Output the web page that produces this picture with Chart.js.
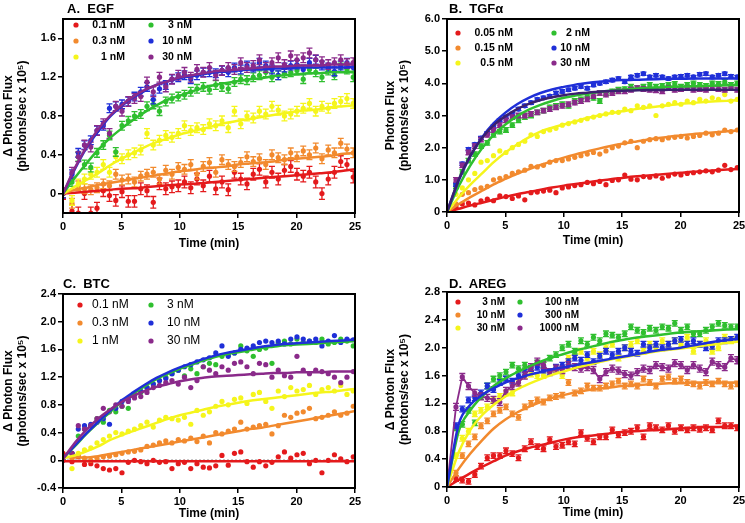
<!DOCTYPE html>
<html><head><meta charset="utf-8">
<script src="https://cdn.jsdelivr.net/npm/chart.js@4.4.1/dist/chart.umd.min.js"></script>
<style>
html,body{margin:0;padding:0;background:#fff;overflow:hidden;width:745px;height:523px;position:relative}
canvas{position:absolute;display:block}
.ttl{position:absolute;font:bold 13px "Liberation Sans",Arial,sans-serif;white-space:pre;color:#000;line-height:13px}
</style></head><body>
<canvas id="cA" width="372" height="262" style="left:0;top:0"></canvas>
<canvas id="cB" width="383" height="262" style="left:372px;top:0"></canvas>
<canvas id="cC" width="372" height="261" style="left:0;top:262px"></canvas>
<canvas id="cD" width="383" height="261" style="left:372px;top:262px"></canvas>
<div class="ttl" style="left:67px;top:2px">A.  EGF</div>
<div class="ttl" style="left:449px;top:2px">B.  TGFα</div>
<div class="ttl" style="left:63px;top:277px">C.  BTC</div>
<div class="ttl" style="left:449px;top:277px">D.  AREG</div>
<script>
// ---- time points (min) of measurements and of fitted curves ----
const T = [0,0.77,1.31,1.84,2.38,2.91,3.45,3.98,4.52,5.05,5.59,6.12,6.66,7.19,7.73,8.26,8.8,9.33,9.87,10.4,10.94,11.47,12.01,12.54,13.08,13.61,14.15,14.68,15.22,15.75,16.29,16.82,17.36,17.89,18.43,18.96,19.5,20.03,20.57,21.1,21.64,22.17,22.71,23.24,23.78,24.31,24.85];
const FT = [0,1,2,3,4,5,6,7,8,9,10,11,12,13,14,15,16,17,18,19,20,21,22,23,24,25];
const xTicks = [0,5,10,15,20,25];

// ---- A. EGF ----
const egfLabels = ['0.1 nM','0.3 nM','1 nM','3 nM','10 nM','30 nM'];
const egf01 = [0,-0.18,-0.2,0.0,-0.2,-0.15,0.03,-0.02,-0.07,0.02,-0.08,-0.08,0.05,0.03,-0.09,0.1,0.05,0.07,0.08,0.12,0.06,0.15,0.08,0.18,0.05,0.12,0.04,0.22,0.15,0.1,0.2,0.25,0.12,0.22,0.15,0.24,0.28,0.2,0.18,0.22,0.12,0.0,0.15,0.22,0.33,0.3,0.17];
const egf03 = [0,-0.1,0.08,0.05,0.04,0.06,0.1,0.08,0.2,0.14,0.15,0.12,0.18,0.2,0.22,0.15,0.24,0.2,0.27,0.25,0.3,0.2,0.28,0.32,0.22,0.35,0.3,0.28,0.32,0.38,0.33,0.36,0.3,0.4,0.37,0.35,0.42,0.38,0.44,0.4,0.47,0.36,0.45,0.42,0.52,0.46,0.42];
const egf1 = [0,-0.07,0.1,0.15,0.2,0.22,0.3,0.22,0.38,0.36,0.4,0.42,0.45,0.62,0.5,0.55,0.6,0.58,0.62,0.7,0.65,0.68,0.66,0.72,0.7,0.75,0.68,0.85,0.72,0.8,0.78,0.85,0.82,0.9,0.86,0.8,0.82,0.85,0.88,0.93,0.85,0.9,0.88,0.93,0.95,0.98,0.93];
const egf3 = [0,0.12,0.38,0.3,0.27,0.42,0.5,0.6,0.43,0.7,0.75,0.8,0.82,0.9,0.92,0.85,0.95,0.98,1.0,1.02,1.05,1.08,1.1,1.07,1.12,1.1,1.08,1.15,1.18,1.17,1.2,1.22,1.25,1.2,1.22,1.24,1.25,1.27,1.18,1.28,1.25,1.2,1.27,1.22,1.3,1.28,1.2];
const egf10 = [0,0.2,0.42,0.5,0.55,0.65,0.7,0.88,0.9,0.92,0.95,1.0,1.05,1.1,0.97,1.08,1.12,1.18,1.2,1.22,1.18,1.22,1.25,1.25,1.24,1.27,1.25,1.3,1.28,1.32,1.3,1.35,1.32,1.28,1.22,1.3,1.32,1.33,1.28,1.35,1.38,1.32,1.3,1.26,1.32,1.35,1.3];
const egf30 = [0,0.22,0.38,0.5,0.48,0.65,0.72,0.62,0.9,0.85,0.95,0.98,1.0,1.15,1.05,1.2,1.1,1.18,1.22,1.25,1.2,1.28,1.25,1.3,1.22,1.27,1.3,1.28,1.35,1.3,1.32,1.38,1.3,1.35,1.4,1.33,1.42,1.38,1.4,1.45,1.38,1.36,1.33,1.35,1.38,1.34,1.35];
const egfFit01 = [0,0.01,0.02,0.03,0.04,0.05,0.055,0.065,0.075,0.085,0.095,0.1,0.11,0.12,0.13,0.14,0.15,0.16,0.17,0.18,0.19,0.2,0.21,0.22,0.235,0.25];
const egfFit03 = [0,0.04,0.06,0.09,0.11,0.13,0.15,0.17,0.19,0.21,0.23,0.24,0.26,0.27,0.28,0.3,0.31,0.32,0.33,0.35,0.36,0.37,0.38,0.39,0.41,0.42];
const egfFit1 = [0,0.07,0.14,0.21,0.29,0.36,0.42,0.48,0.53,0.57,0.61,0.64,0.67,0.7,0.73,0.75,0.77,0.79,0.81,0.83,0.85,0.86,0.87,0.89,0.9,0.91];
const egfFit3 = [0,0.16,0.31,0.45,0.57,0.67,0.76,0.84,0.91,0.97,1.01,1.05,1.09,1.12,1.14,1.16,1.18,1.19,1.21,1.22,1.23,1.24,1.24,1.25,1.25,1.26];
const egfFit10 = [0,0.25,0.47,0.64,0.79,0.9,0.99,1.06,1.12,1.16,1.19,1.21,1.23,1.25,1.26,1.27,1.28,1.28,1.29,1.29,1.3,1.3,1.3,1.3,1.3,1.31];
const egfFit30 = [0,0.26,0.48,0.66,0.8,0.91,1.0,1.07,1.12,1.16,1.2,1.22,1.24,1.26,1.27,1.28,1.29,1.3,1.31,1.31,1.32,1.32,1.32,1.33,1.33,1.33];
const egfErr = [0.06,0.05,0.05,0.045,0.045,0.05];
const egfYTicks = [0,0.4,0.8,1.2,1.6];

// ---- B. TGFalpha ----
const tgfLabels = ['0.05 nM','0.15 nM','0.5 nM','2 nM','10 nM','30 nM'];
const tgf005 = [0,0.15,0.25,0.28,0.22,0.35,0.4,0.35,0.5,0.48,0.42,0.5,0.38,0.6,0.62,0.65,0.68,0.6,0.75,0.78,0.82,0.85,0.92,0.88,0.95,0.85,0.98,1.0,1.15,1.02,1.0,1.1,1.08,1.12,1.05,1.12,1.18,1.15,1.2,1.22,1.25,1.28,1.25,1.3,1.45,1.32,1.38];
const tgf015 = [0,0.25,0.55,0.6,0.7,0.75,0.8,1.0,1.05,1.1,1.2,1.25,1.3,1.42,1.4,1.45,1.55,1.6,1.6,1.65,1.7,1.75,1.8,1.85,1.8,1.9,2.0,2.05,2.15,2.2,2.0,2.2,2.25,2.28,2.25,2.3,2.32,2.35,2.3,2.35,2.38,2.45,2.4,2.45,2.55,2.5,2.55];
const tgf05 = [0,0.55,0.75,1.0,1.2,1.55,1.6,1.75,1.9,1.85,2.0,2.1,2.2,2.4,2.35,2.5,2.55,2.6,2.7,2.75,2.8,2.85,2.9,2.95,3.0,3.05,3.1,3.1,3.2,3.15,3.3,3.25,3.3,3.0,3.3,3.35,3.4,3.35,3.45,3.4,3.5,3.45,3.55,3.5,3.65,3.45,3.5];
const tgf2 = [0,0.8,1.25,1.6,1.8,2.05,2.15,2.4,2.5,2.55,2.7,2.85,2.95,3.0,3.1,3.15,3.25,3.3,3.35,3.3,3.45,3.5,3.6,3.55,3.45,3.7,3.75,3.8,3.82,3.9,3.85,3.9,3.95,3.9,3.92,3.95,3.98,3.9,3.95,4.0,3.95,3.92,4.0,3.98,4.05,3.95,4.0];
const tgf10 = [0,0.85,1.5,1.95,2.1,2.3,2.45,2.65,2.85,2.95,3.05,3.2,3.3,3.4,3.5,3.55,3.6,3.7,3.75,3.8,3.85,3.9,3.85,3.95,4.0,4.05,4.1,4.15,4.05,4.2,4.25,4.3,4.2,4.25,4.2,4.15,4.2,4.22,4.25,4.2,4.28,4.3,4.2,4.25,4.3,4.22,4.2];
const tgf30 = [0,1.0,1.45,1.85,2.05,2.25,2.4,2.55,2.7,2.85,2.95,3.0,3.0,3.05,3.1,3.15,3.2,3.25,3.3,3.35,3.4,3.45,3.5,3.6,3.7,3.65,3.7,3.75,3.75,3.8,3.85,3.82,3.8,3.78,3.75,3.85,3.8,3.82,3.85,3.8,3.82,3.8,3.85,3.82,3.8,3.85,3.8];
const tgfFit005 = [0,0.1,0.2,0.29,0.38,0.47,0.55,0.62,0.69,0.76,0.82,0.87,0.92,0.97,1.02,1.06,1.1,1.13,1.16,1.19,1.22,1.25,1.27,1.3,1.32,1.34];
const tgfFit015 = [0,0.24,0.46,0.66,0.86,1.03,1.19,1.33,1.46,1.58,1.69,1.79,1.88,1.97,2.05,2.12,2.18,2.24,2.29,2.34,2.38,2.42,2.45,2.48,2.51,2.53];
const tgfFit05 = [0,0.45,0.85,1.2,1.55,1.85,2.1,2.32,2.5,2.62,2.72,2.82,2.92,3.0,3.07,3.13,3.19,3.24,3.28,3.32,3.36,3.39,3.42,3.44,3.46,3.48];
const tgfFit2 = [0,0.8,1.45,1.98,2.4,2.72,2.98,3.18,3.33,3.45,3.55,3.62,3.68,3.73,3.77,3.8,3.83,3.85,3.87,3.89,3.9,3.91,3.92,3.93,3.94,3.95];
const tgfFit10 = [0,0.98,1.74,2.32,2.76,3.09,3.35,3.55,3.7,3.81,3.89,3.96,4.01,4.05,4.08,4.1,4.11,4.12,4.13,4.14,4.14,4.15,4.15,4.15,4.15,4.15];
const tgfFit30 = [0,1.0,1.75,2.3,2.7,2.98,3.2,3.36,3.48,3.57,3.63,3.68,3.71,3.74,3.76,3.77,3.78,3.79,3.79,3.8,3.8,3.8,3.8,3.8,3.8,3.8];
const tgfErr = [0,0,0,0.07,0.05,0.07];
const tgfYTicks = [0,1,2,3,4,5,6];

// ---- C. BTC ----
const btcLabels = ['0.1 nM','0.3 nM','1 nM','3 nM','10 nM','30 nM'];
const btc01 = [0.1,-0.02,0.05,-0.06,-0.05,-0.08,-0.12,-0.14,-0.12,-0.18,-0.03,0.0,-0.02,-0.05,0.0,-0.03,-0.02,-0.12,-0.05,-0.03,-0.12,-0.05,-0.1,-0.11,-0.08,0.07,-0.07,0.1,0.12,-0.02,-0.1,-0.02,-0.08,-0.03,0.05,0.12,0.03,0.08,0.1,-0.05,0.0,-0.18,0.0,0.08,0.02,-0.02,0.05];
const btc03 = [0.02,0.02,0.08,0.03,0.0,0.03,0.05,0.06,0.08,0.1,0.12,0.13,0.15,0.2,0.22,0.25,0.28,0.25,0.3,0.28,0.32,0.27,0.35,0.25,0.4,0.38,0.42,0.45,0.55,0.45,0.48,0.5,0.52,0.38,0.5,0.65,0.62,0.68,0.7,0.75,0.6,0.62,0.65,0.7,0.65,0.68,0.78];
const btc1 = [0,-0.12,0.1,0.15,0.18,0.25,0.3,0.35,0.4,0.38,0.42,0.45,0.5,0.55,0.48,0.58,0.62,0.6,0.58,0.62,0.52,0.72,0.65,0.7,0.78,0.85,0.8,0.88,0.9,0.82,0.95,0.98,0.85,0.75,1.0,0.92,1.05,1.0,1.02,1.08,0.95,1.02,1.05,1.0,1.08,0.95,1.0];
const btc3 = [0.05,0.1,0.35,0.45,0.5,0.6,0.55,0.72,0.7,0.78,0.75,0.95,0.98,1.05,1.1,1.15,1.2,1.25,1.3,1.22,1.32,1.25,1.35,1.4,1.38,1.5,1.52,1.55,1.65,1.58,1.5,1.6,1.62,1.4,1.7,1.72,1.68,1.75,1.7,1.72,1.7,1.75,1.68,1.7,1.75,1.72,1.65];
const btc10 = [0.0,0.1,0.45,0.5,0.52,0.55,0.6,0.52,0.75,0.85,0.88,0.95,1.0,1.05,1.1,1.15,1.18,1.25,1.3,1.35,1.38,1.42,1.45,1.48,1.55,1.65,1.5,1.55,1.6,1.62,1.65,1.7,1.72,1.7,1.72,1.68,1.75,1.78,1.75,1.72,1.75,1.65,1.72,1.8,1.7,1.75,1.74];
const btc30 = [0.0,0.1,0.5,0.45,0.5,0.6,0.75,0.7,0.8,0.78,0.85,0.9,0.92,0.98,1.05,1.08,1.12,1.15,1.1,1.2,1.05,1.15,1.35,1.3,1.25,1.35,1.3,1.4,1.42,1.35,1.25,1.4,1.38,1.2,1.3,1.22,1.2,1.5,1.3,1.25,1.3,1.28,1.25,1.2,1.12,1.2,1.28];
const btcFit01 = [-0.015,-0.015,-0.015,-0.015,-0.015,-0.015,-0.015,-0.015,-0.015,-0.015,-0.015,-0.015,-0.015,-0.015,-0.015,-0.015,-0.015,-0.015,-0.015,-0.015,-0.015,-0.015,-0.015,-0.015,-0.015,-0.015];
const btcFit03 = [0.05,0.04,0.04,0.06,0.09,0.12,0.15,0.18,0.21,0.24,0.27,0.3,0.33,0.36,0.39,0.42,0.45,0.47,0.5,0.53,0.56,0.59,0.62,0.65,0.68,0.71];
const btcFit1 = [0.03,0.07,0.13,0.2,0.29,0.36,0.42,0.48,0.54,0.6,0.65,0.69,0.73,0.77,0.8,0.83,0.86,0.88,0.9,0.92,0.94,0.96,0.98,0.99,1.01,1.03];
const btcFit3 = [0.03,0.2,0.38,0.54,0.69,0.84,0.96,1.07,1.17,1.25,1.32,1.38,1.44,1.49,1.53,1.56,1.59,1.62,1.64,1.66,1.67,1.68,1.69,1.7,1.71,1.72];
const btcFit10 = [0.03,0.21,0.39,0.55,0.71,0.86,0.98,1.09,1.19,1.27,1.34,1.4,1.46,1.51,1.55,1.58,1.61,1.64,1.66,1.68,1.69,1.7,1.71,1.72,1.73,1.74];
const btcFit30 = [0.02,0.25,0.44,0.6,0.73,0.84,0.93,1.0,1.06,1.1,1.14,1.17,1.19,1.21,1.22,1.23,1.24,1.25,1.26,1.26,1.27,1.27,1.27,1.28,1.28,1.28];
const btcYTicks = [-0.4,0,0.4,0.8,1.2,1.6,2.0,2.4];

// ---- D. AREG ----
const aregLabels = ['3 nM','10 nM','30 nM','100 nM','300 nM','1000 nM'];
const areg3 = [0,0.12,0.1,0.08,0.18,0.3,0.42,0.45,0.45,0.52,0.48,0.42,0.55,0.65,0.58,0.55,0.68,0.58,0.6,0.65,0.62,0.78,0.7,0.65,0.72,0.72,0.82,0.75,0.78,0.8,0.85,0.72,0.88,0.85,0.82,0.88,0.8,0.85,0.82,0.85,0.83,0.85,0.82,0.95,0.88,0.88,0.85];
const areg10 = [0,0.2,0.45,0.62,0.72,0.88,0.95,1.05,1.1,1.15,1.05,1.0,1.15,1.2,1.25,1.22,1.28,1.3,1.32,1.5,1.35,1.38,1.45,1.42,1.42,1.45,1.48,1.52,1.45,1.48,1.45,1.55,1.5,1.45,1.55,1.58,1.52,1.55,1.5,1.48,1.45,1.5,1.48,1.52,1.48,1.45,1.48];
const areg30 = [0,0.45,0.7,0.8,1.05,1.1,1.15,1.25,1.3,1.35,1.35,1.5,1.6,1.62,1.6,1.6,1.65,1.7,1.6,1.85,1.9,1.95,1.85,1.95,1.9,2.0,2.05,1.85,2.0,2.05,2.1,1.95,2.05,2.0,2.1,2.05,2.1,2.05,2.15,1.95,2.05,2.1,1.95,2.0,2.15,2.1,2.12];
const areg100 = [0,0.85,0.9,1.1,0.92,1.3,1.45,1.55,1.6,1.65,1.75,1.7,1.75,1.7,1.78,1.75,1.85,1.9,2.0,2.05,1.95,2.1,2.05,2.15,2.1,2.2,2.18,2.15,2.2,2.3,2.25,2.22,2.28,2.25,2.3,2.28,2.35,2.25,2.3,2.2,2.2,2.25,2.3,2.35,2.32,2.3,2.3];
const areg300 = [0,0.88,1.12,1.25,1.28,1.35,1.45,1.4,1.5,1.55,1.52,1.6,1.65,1.7,1.72,1.68,1.65,1.72,1.75,1.8,1.85,1.82,1.9,1.8,1.88,1.95,1.9,1.95,2.0,1.95,1.92,2.05,2.0,2.05,2.0,2.05,2.1,2.12,2.05,2.1,2.05,2.0,2.02,2.1,2.1,2.12,2.15];
const areg1000 = [0,1.15,1.58,1.45,1.35,1.3,1.28,1.25,1.22,1.38,1.45,1.5,1.6,1.72,1.8,1.75,1.65,1.7,1.68,1.75,1.72,1.7,1.72,1.68,1.55,1.65,1.7,1.67,1.62,1.6,1.65,1.7,1.68,1.75,1.72,1.7,1.78,1.75,1.68,1.75,1.7,1.65,1.8,1.75,1.72,1.85,1.82];
const aregFit3 = [0,0.1,0.2,0.29,0.37,0.45,0.51,0.56,0.6,0.64,0.68,0.71,0.73,0.75,0.77,0.79,0.8,0.81,0.82,0.83,0.84,0.85,0.86,0.86,0.87,0.88];
const aregFit10 = [0,0.26,0.48,0.67,0.84,0.97,1.07,1.15,1.22,1.28,1.32,1.36,1.39,1.41,1.43,1.45,1.46,1.47,1.48,1.49,1.49,1.5,1.5,1.5,1.5,1.5];
const aregFit30 = [0,0.5,0.82,1.03,1.18,1.3,1.4,1.48,1.55,1.61,1.66,1.71,1.75,1.79,1.83,1.86,1.89,1.92,1.95,1.97,1.99,2.01,2.03,2.05,2.07,2.09];
const aregFit100 = [0,0.8,1.1,1.3,1.45,1.56,1.65,1.73,1.8,1.86,1.91,1.96,2.0,2.04,2.08,2.11,2.14,2.16,2.18,2.2,2.22,2.23,2.24,2.25,2.26,2.27];
const aregFit300 = [0,0.9,1.18,1.32,1.42,1.5,1.56,1.61,1.65,1.69,1.72,1.75,1.78,1.81,1.84,1.87,1.9,1.93,1.96,1.98,2.0,2.03,2.06,2.09,2.11,2.13];
const aregErr = [0.04,0.04,0.04,0.04,0.04,0.05];
const aregYTicks = [0,0.4,0.8,1.2,1.6,2.0,2.4,2.8];

// ---- styling ----
const COLORS = ['#e41a1c','#f28a2e','#f5f51c','#2fbf2f','#1f2fd8','#8a2a8a'];
const FONT = '"Liberation Sans", Arial, sans-serif';
Chart.defaults.font.family = FONT;

const pts = (xs, ys) => xs.map((x, i) => ({x: x, y: ys[i]}));
const fmt = v => (v === 0 ? '0' : v.toFixed(1));

const framePlugin = {
  id: 'frame',
  beforeDatasetsDraw(chart, args, opts) {
    const {ctx, chartArea: a, scales} = chart;
    if (opts.zeroLine) {
      const y = scales.y.getPixelForValue(0);
      ctx.save(); ctx.strokeStyle = '#000'; ctx.lineWidth = 1; ctx.setLineDash([2, 2]);
      ctx.beginPath(); ctx.moveTo(a.left, y); ctx.lineTo(a.right, y); ctx.stroke(); ctx.restore();
    }
  },
  afterDatasetsDraw(chart) {
    const {ctx, chartArea: a} = chart;
    ctx.save(); ctx.strokeStyle = '#000'; ctx.lineWidth = 2;
    ctx.strokeRect(a.left, a.top, a.right - a.left, a.bottom - a.top);
    ctx.restore();
  },
  afterDraw(chart, args, opts) {
    const L = opts.legend; if (!L) return;
    const ctx = chart.ctx;
    ctx.save(); ctx.font = L.font; ctx.textBaseline = 'middle'; ctx.fillStyle = '#000';
    L.labels.forEach((lab, i) => {
      const col = i < 3 ? 0 : 1, row = i % 3;
      const y = L.rows[row];
      const dx = col === 0 ? L.c1dot : L.c2dot;
      const tx = col === 0 ? L.c1txt : L.c2txt;
      ctx.fillStyle = COLORS[i];
      ctx.beginPath(); ctx.arc(dx, y, 2.6, 0, Math.PI * 2); ctx.fill();
      ctx.fillStyle = '#000'; ctx.textAlign = L.align;
      ctx.fillText(lab, tx, y);
    });
    ctx.restore();
  }
};

const errPlugin = {
  id: 'errbars',
  beforeDatasetDraw(chart, args) {
    const ds = chart.data.datasets[args.index];
    if (!ds.err) return;
    const {ctx, chartArea: a} = chart; const ys = chart.scales.y;
    ctx.save();
    ctx.beginPath(); ctx.rect(a.left, a.top, a.right - a.left, a.bottom - a.top); ctx.clip();
    ctx.strokeStyle = ds.borderColor; ctx.lineWidth = 1.3;
    args.meta.data.forEach((el, i) => {
      const v = ds.data[i].y;
      const t = ys.getPixelForValue(v + ds.err), b = ys.getPixelForValue(v - ds.err);
      ctx.beginPath();
      ctx.moveTo(el.x, t); ctx.lineTo(el.x, b);
      ctx.moveTo(el.x - 3, t); ctx.lineTo(el.x + 3, t);
      ctx.moveTo(el.x - 3, b); ctx.lineTo(el.x + 3, b);
      ctx.stroke();
    });
    ctx.restore();
  }
};

function makePanel(id, cfg) {
  const datasets = [];
  cfg.series.forEach((ys, s) => {
    const connect = cfg.connect && cfg.connect[s];
    datasets.push({
      data: pts(T, ys), showLine: !!connect, borderColor: COLORS[s], backgroundColor: COLORS[s],
      borderWidth: connect ? 1.8 : 0, pointRadius: 2.6, pointBorderWidth: 0, pointHoverRadius: 2.6,
      err: cfg.err ? cfg.err[s] : 0, order: 20 - s
    });
  });
  cfg.fits.forEach((ys, s) => {
    if (!ys) return;
    datasets.push({
      data: pts(FT, ys), showLine: true, borderColor: (cfg.fitColors && cfg.fitColors[s]) || COLORS[s],
      borderWidth: 2.5, pointRadius: 0, cubicInterpolationMode: 'monotone', order: 10 - s
    });
  });
  return new Chart(document.getElementById(id), {
    type: 'scatter',
    data: {datasets},
    plugins: [framePlugin, errPlugin],
    options: {
      responsive: false, animation: false, devicePixelRatio: 1,
      layout: {padding: cfg.pad},
      plugins: {legend: {display: false}, tooltip: {enabled: false}, frame: {legend: cfg.legend, zeroLine: cfg.zeroLine}},
      scales: {
        x: {
          type: 'linear', min: 0, max: 25,
          afterBuildTicks: sc => { sc.ticks = xTicks.map(v => ({value: v})); },
          afterFit: sc => { sc.height = cfg.xh; },
          ticks: {color: '#000', font: {size: 11, weight: 'bold'}, padding: 2, maxRotation: 0, callback: v => String(v)},
          grid: {drawOnChartArea: false, drawTicks: true, tickLength: 5, color: '#000', lineWidth: 1.5},
          border: {display: false},
          title: {display: true, text: 'Time (min)', color: '#000', font: {size: 12, weight: 'bold', lineHeight: 1.2}, padding: {top: 0, bottom: 0}}
        },
        y: {
          type: 'linear', min: cfg.ymin, max: cfg.ymax,
          afterBuildTicks: sc => { sc.ticks = cfg.yTicks.map(v => ({value: v})); },
          afterFit: sc => { sc.width = cfg.yw; },
          ticks: {color: '#000', font: {size: 11, weight: 'bold'}, padding: 2, callback: v => fmt(v)},
          grid: {drawOnChartArea: false, drawTicks: true, tickLength: 5, color: '#000', lineWidth: 1.5},
          border: {display: false},
          title: {display: true, text: cfg.yTitle, color: '#000', font: {size: 12, weight: 'bold', lineHeight: 1.15}, padding: {top: cfg.ytp, bottom: 0}}
        }
      }
    }
  });
}

makePanel('cA', {
  series: [egf01, egf03, egf1, egf3, egf10, egf30],
  fits: [egfFit01, egfFit03, egfFit1, egfFit3, egfFit10, egfFit30],
  err: egfErr, ymin: -0.2, ymax: 1.8, yTicks: egfYTicks,
  yTitle: ['Δ Photon Flux', '(photons/sec x 10⁵)'], ytp: 2,
  pad: {left: 0, right: 17, top: 19, bottom: 11}, yw: 63, xh: 38,
  legend: {labels: egfLabels, font: 'bold 10.5px ' + FONT, align: 'right', c1dot: 76, c1txt: 125, c2dot: 151, c2txt: 192, rows: [25, 41, 57]}
});
makePanel('cB', {
  series: [tgf005, tgf015, tgf05, tgf2, tgf10, tgf30],
  fits: [tgfFit005, tgfFit015, tgfFit05, tgfFit2, tgfFit10, tgfFit30],
  fitColors: [null, null, null, null, null, '#3b2070'],
  err: tgfErr, ymin: 0, ymax: 6, yTicks: tgfYTicks,
  yTitle: ['Photon Flux', '(photons/sec x 10⁵)'], ytp: 12,
  pad: {left: 0, right: 16, top: 19, bottom: 14}, yw: 75, xh: 36,
  legend: {labels: tgfLabels, font: 'bold 10.5px ' + FONT, align: 'right', c1dot: 86, c1txt: 141, c2dot: 182, c2txt: 218, rows: [33, 48, 63]}
});
makePanel('cC', {
  series: [btc01, btc03, btc1, btc3, btc10, btc30],
  fits: [btcFit01, btcFit03, btcFit1, btcFit3, btcFit10, btcFit30],
  err: null, ymin: -0.4, ymax: 2.4, yTicks: btcYTicks, zeroLine: true,
  yTitle: ['Δ Photon Flux', '(photons/sec x 10⁵)'], ytp: 2,
  pad: {left: 0, right: 17, top: 32, bottom: 2}, yw: 63, xh: 33,
  legend: {labels: btcLabels, font: '12px ' + FONT, align: 'left', c1dot: 80, c1txt: 92, c2dot: 151, c2txt: 167, rows: [43, 61, 79]}
});
makePanel('cD', {
  series: [areg3, areg10, areg30, areg100, areg300, areg1000],
  fits: [aregFit3, aregFit10, aregFit30, aregFit100, aregFit300, null],
  connect: [false, false, false, false, false, true],
  err: aregErr, ymin: 0, ymax: 2.8, yTicks: aregYTicks,
  yTitle: ['Δ Photon Flux', '(photons/sec x 10⁵)'], ytp: 12,
  pad: {left: 0, right: 16, top: 30, bottom: 3}, yw: 75, xh: 33,
  legend: {labels: aregLabels, font: 'bold 10px ' + FONT, align: 'right', c1dot: 86, c1txt: 133, c2dot: 148, c2txt: 207, rows: [40, 53, 66]}
});
</script>
</body></html>
